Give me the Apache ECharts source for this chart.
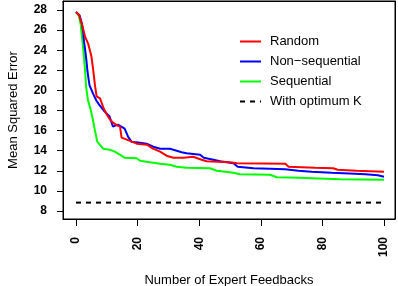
<!DOCTYPE html>
<html>
<head>
<meta charset="utf-8">
<script src="https://cdn.jsdelivr.net/npm/echarts@6/dist/echarts.min.js"></script>
<style>html,body{margin:0;padding:0;background:#fff}#c{width:398px;height:286px}</style>
</head>
<body>
<div id="c"></div>
<script>
var xTicks = [0, 20, 40, 60, 80, 100];
var yTicks = [8, 10, 12, 14, 16, 18, 20, 22, 24, 26, 28];

var randomX = [0,1,2,3,4,5,5.6,6.2,6.7,7.8,9,10,11,12,13.5,14.3,14.8,16.5,19.7,23,25,27.3,29.4,31.6,35,38,40.8,42.4,50,52.2,68,69,77.6,83.5,85,91,100];
var randomY = [27.8,27.5,26.5,25.3,24.6,23.4,22.0,20.4,19.4,19.2,18.2,17.6,17.1,16.8,16.5,16.4,15.3,15.1,14.7,14.6,14.2,13.9,13.5,13.3,13.3,13.4,13.1,12.95,12.85,12.75,12.7,12.4,12.3,12.25,12.1,12.0,11.9];

var nonseqX = [0,1.2,1.95,2.3,2.6,3.0,3.4,3.7,4.1,4.4,5.5,6.6,7.7,9.3,10.9,12.0,13.6,15.8,16.9,18,20.8,22.9,25.1,27.3,30.5,32.7,34.3,35.9,40.3,41.5,44.6,46.8,51.1,52.5,57.6,63,67.9,72.2,76.5,83,90.6,94,98,100];
var nonseqY = [27.8,27.45,26.6,25.9,24.9,23.95,22.95,21.96,21.1,20.5,19.7,19.0,18.5,17.9,17.4,16.4,16.6,16.2,15.4,14.9,14.8,14.7,14.4,14.2,14.2,14.0,13.85,13.75,13.6,13.3,13.1,12.95,12.75,12.4,12.25,12.2,12.15,12.0,11.9,11.8,11.7,11.65,11.55,11.4];

var seqX = [0,0.9,1.5,1.95,2.4,2.9,3.3,3.9,4.8,5.5,6.1,6.9,8.8,10.9,12.6,14.2,15.8,19.7,20.8,24,27.3,30.5,32.7,35.9,43.5,45.7,51.1,53.2,63,65.2,72.2,85.7,100];
var seqY = [27.8,27.45,26.6,25.3,23.95,22.2,20.3,19.0,18.05,17.05,16.1,14.9,14.2,14.1,13.9,13.6,13.3,13.25,13.0,12.85,12.7,12.6,12.4,12.3,12.25,12.0,11.8,11.65,11.6,11.35,11.3,11.15,11.1];

var optimumX = [0, 100];
var optimumY = [8.83, 8.83];

var names = ['Random', 'Non\u2212sequential', 'Sequential', 'With optimum K'];

function pairs(xs, ys) { return xs.map(function (x, i) { return [x, ys[i]]; }); }

var FONT = '"Liberation Sans", Arial, Helvetica, sans-serif';
// axis extents (R-style padding around the data range)
var X_MIN = -4.22, X_MAX = 103.57, Y_MIN = 7.2, Y_MAX = 28.9;

var chart = echarts.init(document.getElementById('c'), null, {renderer: 'canvas'});
chart.setOption({
  animation: false,
  textStyle: {fontFamily: FONT},
  grid: [
    {left: 63, top: 1, width: 332, height: 218, show: true, borderColor: '#000', borderWidth: 1,
      backgroundColor: 'rgba(0,0,0,0)', containLabel: false, outerBoundsMode: 'none'}
  ],
  legend: {
    data: [
      {name: names[0]},
      {name: names[1]},
      {name: names[2]},
      {name: names[3], lineStyle: {type: [5, 5]}}
    ],
    orient: 'vertical',
    left: 239,
    top: 35,
    padding: 0,
    itemWidth: 21,
    itemHeight: 14,
    itemGap: 7,
    selectedMode: false,
    itemStyle: {opacity: 0},
    textStyle: {fontFamily: FONT, fontSize: 13, color: '#000', padding: [0, 0, 0, 4]}
  },
  xAxis: [
    {
      type: 'value', position: 'bottom', min: X_MIN, max: X_MAX,
      name: 'Number of Expert Feedbacks', nameLocation: 'middle', nameGap: 55,
      nameTextStyle: {fontFamily: FONT, fontSize: 13, color: '#000'},
      axisLine: {show: true, onZero: false, lineStyle: {color: '#000', width: 1}},
      axisTick: {show: true, length: 7, customValues: xTicks, lineStyle: {color: '#000', width: 1}},
      axisLabel: {rotate: 90, margin: 18, customValues: xTicks, fontFamily: FONT, fontSize: 12, fontWeight: 'bold', color: '#000'},
      splitLine: {show: false}
    },
    {
      type: 'value', position: 'top', min: X_MIN, max: X_MAX,
      axisLine: {show: true, onZero: false, lineStyle: {color: '#000', width: 1}},
      axisTick: {show: false}, axisLabel: {show: false}, splitLine: {show: false}
    }
  ],
  yAxis: [
    {
      type: 'value', position: 'left', min: Y_MIN, max: Y_MAX,
      name: 'Mean Squared Error', nameLocation: 'middle', nameGap: 43,
      nameTextStyle: {fontFamily: FONT, fontSize: 13, color: '#000'},
      axisLine: {show: true, onZero: false, lineStyle: {color: '#000', width: 1}},
      axisTick: {show: true, length: 6, customValues: yTicks, lineStyle: {color: '#000', width: 1}},
      axisLabel: {margin: 16, customValues: yTicks, fontFamily: FONT, fontSize: 12, fontWeight: 'bold', color: '#000'},
      splitLine: {show: false}
    },
    {
      type: 'value', position: 'right', min: Y_MIN, max: Y_MAX,
      axisLine: {show: true, onZero: false, lineStyle: {color: '#000', width: 1}},
      axisTick: {show: false}, axisLabel: {show: false}, splitLine: {show: false}
    }
  ],
  series: [
    {name: names[3], type: 'line', data: pairs(optimumX, optimumY), symbol: 'none',
      lineStyle: {color: '#000', width: 2, type: [5, 5]}, itemStyle: {color: '#000'}},
    {name: names[2], type: 'line', data: pairs(seqX, seqY), symbol: 'none',
      lineStyle: {color: '#00ff00', width: 2}, itemStyle: {color: '#00ff00'}},
    {name: names[1], type: 'line', data: pairs(nonseqX, nonseqY), symbol: 'none',
      lineStyle: {color: '#0000ff', width: 2}, itemStyle: {color: '#0000ff'}},
    {name: names[0], type: 'line', data: pairs(randomX, randomY), symbol: 'none',
      lineStyle: {color: '#ff0000', width: 2}, itemStyle: {color: '#ff0000'}}
  ]
});
</script>
</body>
</html>
